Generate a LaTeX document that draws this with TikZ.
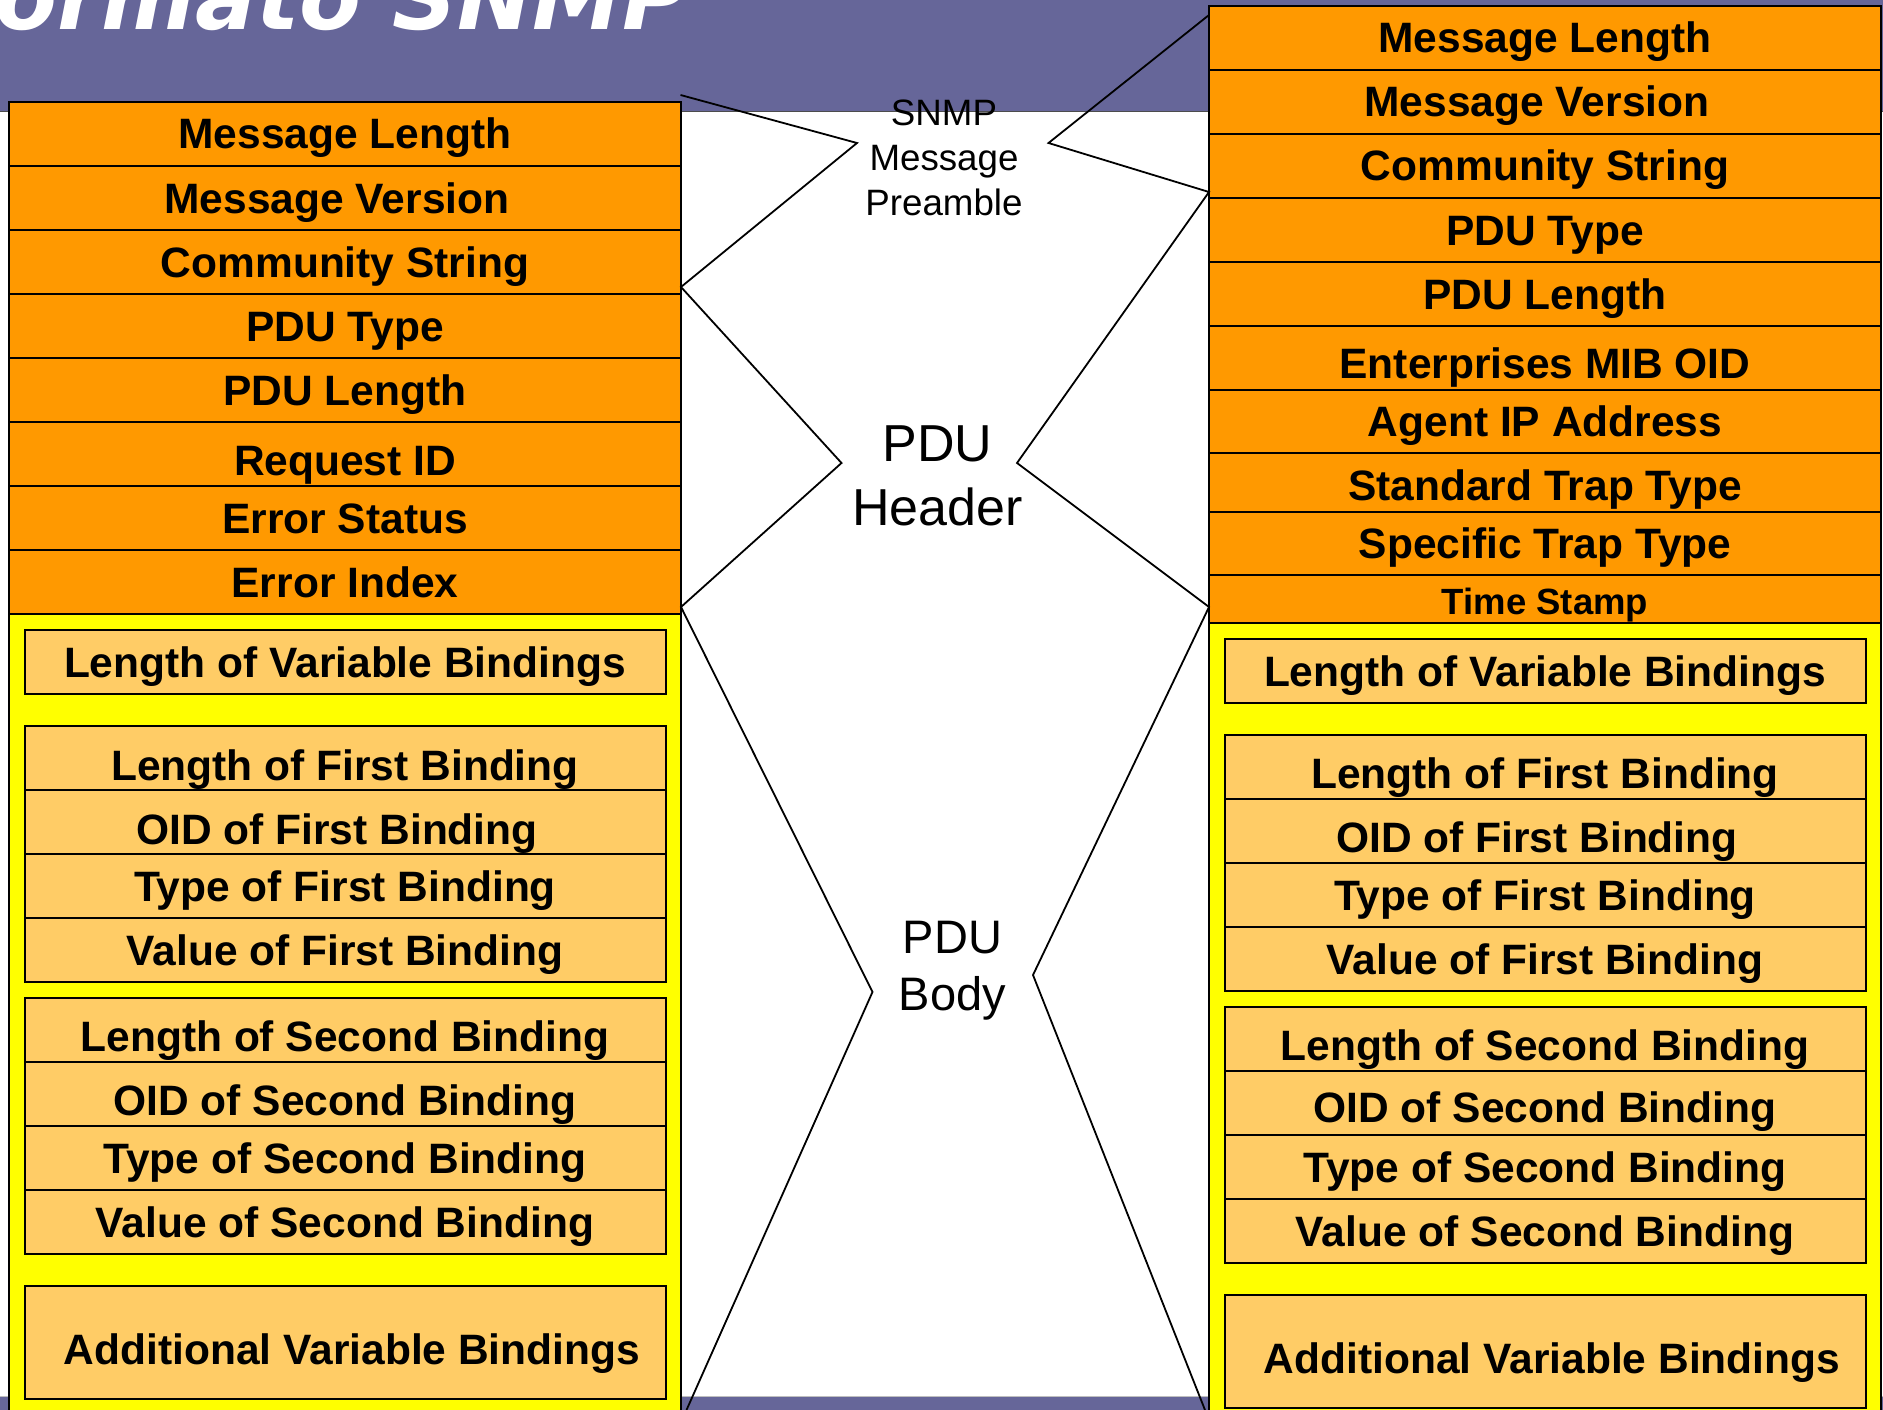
\documentclass[tikz,border=0pt]{standalone}
\usepackage{fontspec}
\setmainfont{Liberation Sans}
\newfontfamily\titlefont{DejaVu Sans Bold Oblique}
\usetikzlibrary{positioning}
\definecolor{band}{HTML}{666699}
\definecolor{hdr}{HTML}{FF9900}
\definecolor{body}{HTML}{FFFF00}
\definecolor{bind}{HTML}{FFCC66}
% lower a row text a little
\newcommand{\dn}[2]{\raisebox{-#1pt}{#2}}

\begin{document}
\begin{tikzpicture}[x=1pt, y=-1pt,
    hrow/.style={draw, fill=hdr, line width=2pt, inner sep=0pt, outer sep=0pt,
      minimum width=672pt, minimum height=64pt, text height=30pt, text depth=0pt,
      font=\fontsize{42.5}{48}\selectfont\bfseries},
    brow/.style={hrow, fill=bind, minimum width=641pt},
    bodybox/.style={draw, fill=body, line width=2pt, outer sep=0pt,
      minimum width=672pt, minimum height=820pt},
    tag/.style={align=center, inner sep=0pt},
    zig/.style={line width=1.8pt, line join=miter}]
\useasboundingbox (0,0) rectangle (1883,1410);
\clip (0,0) rectangle (1883,1410);

% slide background
\fill[white] (0,0) rectangle (1883,1410);
\fill[band] (0,0) rectangle (1883,111.7);
\draw[black!70, line width=1pt] (0,111.7) -- (1883,111.7);
\fill[band] (0,1396.7) rectangle (1883,1410);
\draw[black!25, line width=1.5pt] (0,1396.7) -- (1883,1396.7);
\node[anchor=base west, text=white, inner sep=0pt,
  font=\titlefont\fontsize{90}{94}\selectfont] (title) at (-59,29.5) {Formato SNMP};

% request / response message
\node[hrow, anchor=north west] (l1) at (9,102) {Message Length};
\node[hrow, below=0pt of l1] (l2) {Message Version\kern16pt};
\node[hrow, below=0pt of l2] (l3) {Community String};
\node[hrow, below=0pt of l3] (l4) {PDU Type};
\node[hrow, below=0pt of l4] (l5) {PDU Length};
\node[hrow, below=0pt of l5] (l6) {\dn{6}{Request ID}};
\node[hrow, below=0pt of l6] (l7) {Error Status};
\node[hrow, below=0pt of l7] (l8) {Error Index};
\node[bodybox, anchor=north west] (lb) at (l8.south west) {};
\node[brow, anchor=north] (lv) at ([yshift=-16pt]lb.north) {Length of Variable Bindings};
\node[brow, below=32pt of lv] (lf1) {\dn{7}{Length of First Binding}};
\node[brow, below=0pt of lf1] (lf2) {\dn{7}{OID of First Binding\kern16pt}};
\node[brow, below=0pt of lf2] (lf3) {Type of First Binding};
\node[brow, below=0pt of lf3] (lf4) {Value of First Binding};
\node[brow, below=16pt of lf4] (ls1) {\dn{6}{Length of Second Binding}};
\node[brow, below=0pt of ls1] (ls2) {\dn{6}{OID of Second Binding}};
\node[brow, below=0pt of ls2] (ls3) {Type of Second Binding};
\node[brow, below=0pt of ls3] (ls4) {Value of Second Binding};
\node[brow, below=32pt of ls4, minimum height=113pt] (la) {\dn{7}{\kern14pt Additional Variable Bindings}};

% trap message
\node[hrow, anchor=north west] (r1) at (1209,6) {Message Length};
\node[hrow, below=0pt of r1] (r2) {Message Version\kern16pt};
\node[hrow, below=0pt of r2] (r3) {Community String};
\node[hrow, below=0pt of r3] (r4) {PDU Type};
\node[hrow, below=0pt of r4] (r5) {PDU Length};
\node[hrow, below=0pt of r5] (r6) {\dn{5}{Enterprises MIB OID}};
\node[hrow, below=0pt of r6, minimum height=63pt] (r7) {Agent IP Address};
\node[hrow, below=0pt of r7, minimum height=59pt] (r8) {\dn{3}{Standard Trap Type}};
\node[hrow, below=0pt of r8, minimum height=63pt] (r9) {Specific Trap Type};
\node[hrow, below=0pt of r9, minimum height=48pt,
  font=\fontsize{36.5}{40}\selectfont\bfseries] (r10) {Time Stamp};
\node[bodybox, anchor=north west] (rb) at (r10.south west) {};
\node[brow, anchor=north] (rv) at ([yshift=-16pt]rb.north) {Length of Variable Bindings};
\node[brow, below=32pt of rv] (rf1) {\dn{6}{Length of First Binding}};
\node[brow, below=0pt of rf1] (rf2) {\dn{6}{OID of First Binding\kern16pt}};
\node[brow, below=0pt of rf2] (rf3) {Type of First Binding};
\node[brow, below=0pt of rf3] (rf4) {Value of First Binding};
\node[brow, below=16pt of rf4] (rs1) {\dn{6}{Length of Second Binding}};
\node[brow, below=0pt of rs1] (rs2) {\dn{4}{OID of Second Binding}};
\node[brow, below=0pt of rs2] (rs3) {Type of Second Binding};
\node[brow, below=0pt of rs3] (rs4) {Value of Second Binding};
\node[brow, below=32pt of rs4, minimum height=113pt] (ra) {\dn{7}{\kern14pt Additional Variable Bindings}};

% zigzag braces
\coordinate (pa) at (680.5,95);
\coordinate (pb) at (857,143);
\coordinate (pc) at (681,287);
\coordinate (pd) at (841.5,463);
\coordinate (pe) at (681,607);
\coordinate (pf) at (872.5,992);
\coordinate (pg) at (686.5,1410);
\coordinate (qa) at (1209,15);
\coordinate (qb) at (1048.5,143);
\coordinate (qc) at (1209,192);
\coordinate (qd) at (1017,463);
\coordinate (qe) at (1209,607);
\coordinate (qf) at (1033,975);
\coordinate (qg) at (1205,1410);
\draw[zig] (pa) -- (pb) -- (pc) -- (pd) -- (pe) -- (pf) -- (pg);
\draw[zig] (qa) -- (qb) -- (qc) -- (qd) -- (qe) -- (qf) -- (qg);

\node[tag, anchor=base, font=\fontsize{36.7}{45}\selectfont] (pre) at (944,215) {SNMP\\Message\\Preamble};
\node[tag, anchor=base, font=\fontsize{52}{64}\selectfont] (head) at (937.5,525.7) {PDU\\Header};
\node[tag, anchor=base, font=\fontsize{47}{57}\selectfont] (bod) at (952.5,1010) {PDU\\Body};
\end{tikzpicture}
\end{document}
